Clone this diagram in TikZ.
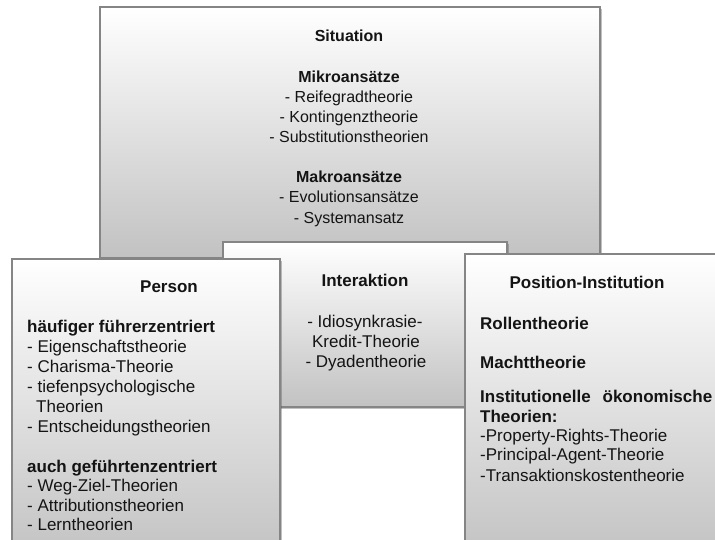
\documentclass[tikz,border=0pt]{standalone}
\usepackage{fontspec}
\setmainfont{Liberation Sans}
\usetikzlibrary{shadows}
\begin{document}
\begin{tikzpicture}[x=1pt,y=-1pt,
  panel/.style={draw=black!48, line width=1.2pt, top color=white, bottom color=black!24,
    drop shadow={shadow xshift=1.6pt, shadow yshift=-1.6pt, opacity=0.35, fill=black!70}},
  txt/.style={inner sep=0pt, text=black!92, font=\fontsize{17}{20}\selectfont},
  lft/.style={txt, anchor=base west},
  ctr/.style={txt, anchor=base},
  small/.style={font=\fontsize{16}{19}\selectfont},
  hd/.style={font=\fontsize{17}{20}\selectfont\bfseries},
  hdsmall/.style={font=\fontsize{16}{19}\selectfont\bfseries}
]
\useasboundingbox (0,0) rectangle (715,539);
\clip (0,0) rectangle (715,539);

% Situation (background panel)
\path[panel] (100,7) rectangle (600,258);
\node[ctr, hdsmall] (sitT) at (349,41) {Situation};
\node[ctr, hdsmall] (sitMi) at (349,82) {Mikroansätze};
\node[ctr, small] (sit1) at (349,102) {- Reifegradtheorie};
\node[ctr, small] (sit2) at (349,122) {- Kontingenztheorie};
\node[ctr, small] (sit3) at (349,142) {- Substitutionstheorien};
\node[ctr, hdsmall] (sitMa) at (349,182) {Makroansätze};
\node[ctr, small] (sit4) at (349,202) {- Evolutionsansätze};
\node[ctr, small] (sit5) at (349,223) {- Systemansatz};

% Interaktion
\path[panel] (223,242) rectangle (507,407);
\node[ctr, hd] (intT) at (365,286) {Interaktion};
\node[ctr] (int1) at (365,327) {- Idiosynkrasie-};
\node[ctr] (int2) at (366,347) {Kredit-Theorie};
\node[ctr] (int3) at (366,367) {- Dyadentheorie};

% Person
\path[panel] (12,259) rectangle (280,560);
\node[ctr, hd] (perT) at (169,292) {Person};
\node[lft, hd] (perA) at (27,332) {häufiger führerzentriert};
\node[lft] (per1) at (27,352) {- Eigenschaftstheorie};
\node[lft] (per2) at (27,372) {- Charisma-Theorie};
\node[lft] (per3) at (27,392) {- tiefenpsychologische};
\node[lft] (per3b) at (36,412) {Theorien};
\node[lft] (per4) at (27,432) {- Entscheidungstheorien};
\node[lft, hd] (perB) at (27,472) {auch geführtenzentriert};
\node[lft] (per5) at (27,491) {- Weg-Ziel-Theorien};
\node[lft] (per6) at (27,511) {- Attributionstheorien};
\node[lft] (per7) at (27,530) {- Lerntheorien};

% Position-Institution
\path[panel] (465,254) rectangle (740,560);
\node[ctr, hd] (posT) at (587,288) {Position-Institution};
\node[lft, hd] (pos1) at (480,329) {Rollentheorie};
\node[lft, hd] (pos2) at (480,368) {Machttheorie};
\node[lft, hd] (pos3) at (480,402) {\hbox to 232pt{Institutionelle\hfill ökonomische}};
\node[lft, hd] (pos3b) at (480,422) {Theorien:};
\node[lft] (pos4) at (480,441) {-Property-Rights-Theorie};
\node[lft] (pos5) at (480,460) {-Principal-Agent-Theorie};
\node[lft] (pos6) at (480,481) {-Transaktionskostentheorie};
\end{tikzpicture}
\end{document}
